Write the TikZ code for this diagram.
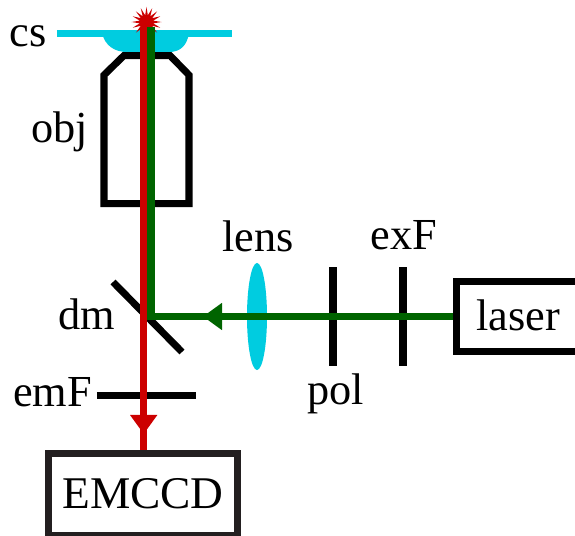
\documentclass[tikz,border=0pt]{standalone}
\usepackage{fontspec}
\setmainfont{Liberation Serif}
\usetikzlibrary{arrows.meta, shapes.geometric, shapes.misc}
\definecolor{glasscyan}{RGB}{0,204,224}
\definecolor{beamred}{RGB}{204,0,0}
\definecolor{beamgreen}{RGB}{0,100,0}
\definecolor{boxblack}{RGB}{35,31,32}
\tikzset{
  % labels and parts
  label/.style={inner sep=0pt, font=\fontsize{12.6}{15}\selectfont},
  part/.style={draw=black, line width=0.07cm},
  device/.style={label, draw=black, line width=0.07cm},
  redbeam/.style={draw=beamred, line width=0.075cm},
  greenbeam/.style={draw=beamgreen, line width=0.07cm},
  headtip/.style={-{Triangle[length=0.19cm, width=0.26cm]}}
}

\begin{document}
\begin{tikzpicture}[x=0.01cm, y=-0.01cm]
  \useasboundingbox (0,0) rectangle (575,536);

  % --- coverslip and immersion drop ---
  \coordinate (csleft) at (57,33);
  \coordinate (csright) at (232,33);
  \fill[glasscyan] (102,33) .. controls (105,46) and (115,52) .. (127,52)
    -- (169,52) .. controls (180,52) and (187,46) .. (189,33) -- cycle;
  \draw[glasscyan, line width=0.07cm] (csleft) -- (csright);

  % --- objective ---
  \draw[part, miter limit=4] (124,55.5) -- (170,55.5) -- (189,75) -- (189,203.5)
    -- (104,203.5) -- (104,75) -- cycle;

  % --- star at the focus ---
  \node (spark) [star, star points=16, star point ratio=2.2, fill=beamred,
    minimum size=0.3cm, inner sep=0pt] at (146.5,22) {};

  % --- optics ---
  \node (lens) [ellipse, fill=glasscyan, minimum width=0.2cm, minimum height=1.07cm,
    inner sep=0pt] at (257,316.5) {};
  \coordinate (dmtop) at (113,282);
  \coordinate (dmbottom) at (182,352);
  \coordinate (emleft) at (97,395);
  \coordinate (emright) at (196,395);
  \coordinate (poltop) at (333,267);
  \coordinate (polbottom) at (333,366);
  \coordinate (extop) at (403,267);
  \coordinate (exbottom) at (403,366);
  \draw[part] (dmtop) -- (dmbottom);
  \draw[part] (emleft) -- (emright);
  \draw[part] (poltop) -- (polbottom);
  \draw[part] (extop) -- (exbottom);

  % --- devices ---
  \node (emccd) [device, draw=boxblack, minimum width=1.89cm, minimum height=0.82cm,
    font=\fontsize{12.9}{15}\selectfont] at (143,494.5) {\raisebox{0.02cm}{EMCCD}};
  \node (laser) [device, minimum width=1.24cm, minimum height=0.7cm] at (518.5,316.5) {\raisebox{0.03cm}{laser}};

  % --- beams ---
  \coordinate (redtop) at (143.7,27);
  \coordinate (redhead) at (143.7,434);
  \coordinate (greentop) at (151,27);
  \coordinate (dmhit) at (151,316.5);
  \coordinate (greenhead) at (203,316.5);
  \draw[redbeam] (redtop) -- (redtop |- emccd.north);
  \draw[redbeam, headtip] (redtop) -- (redhead);
  \draw[greenbeam, line join=miter] (laser.west) -- (dmhit) -- (greentop);
  \draw[greenbeam, headtip] (laser.west) -- (greenhead);

  % --- texts ---
  \node (cslabel) [label] at (28,36) {cs};
  \node (objlabel) [label] at (60,132) {obj};
  \node (dmlabel) [label] at (87,314) {dm};
  \node (emlabel) [label] at (52.5,392) {emF};
  \node (lenslabel) [label] at (258,236) {lens};
  \node (exlabel) [label] at (404,235) {exF};
  \node (pollabel) [label] at (336,394) {pol};
\end{tikzpicture}
\end{document}
